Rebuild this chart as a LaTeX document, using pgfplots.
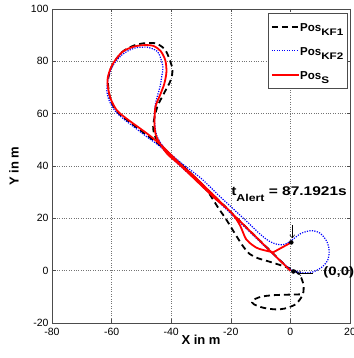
\documentclass[border=0pt]{standalone}
\usepackage{fontspec}
\setmainfont{Liberation Sans}
\newfontfamily\widefont[FakeStretch=1.23]{Liberation Sans}
\usepackage{pgfplots}
\pgfplotsset{compat=1.18}
\usetikzlibrary{arrows.meta}
\begin{document}
\begin{tikzpicture}
\begin{axis}[
  scale only axis, width=298pt, height=314pt,
  xmin=-80, xmax=20, ymin=-20, ymax=100,
  xtick={-80,-60,...,20}, ytick={-20,0,...,100},
  clip=false,
  grid=major,
  major grid style={dotted, black!55, line width=0.5pt},
  axis line style={black!70, line width=0.6pt},
  tick style={black!70, line width=0.6pt},
  major tick length=3.5pt, tick align=inside,
  /pgf/number format/assume math mode=true,
  ticklabel style={font=\fontsize{10.5}{12}\selectfont},
  xticklabel style={yshift=-2pt},
  xlabel={X in m}, ylabel={Y in m},
  label style={font=\fontsize{13}{15}\selectfont\bfseries},
  xlabel style={at={([yshift=-21pt]axis description cs:0.5,0)}, anchor=base},
  ylabel style={at={([xshift=-38pt]axis description cs:0,0.5)}, anchor=center},
  legend style={at={(0.99,0.987)}, anchor=north east, draw=black!70, fill=white,
    font=\fontsize{11.5}{13}\selectfont\bfseries,
    inner xsep=3pt, inner ysep=3pt, row sep=3pt,
    nodes={inner sep=0.5pt, text height=15pt, text depth=5pt}},
  legend cell align=left,
  legend image code/.code={\draw[#1] (0pt,0pt) -- (27pt,0pt);},
]
% Pos_KF1
\addplot[black, line width=1.8pt, dash pattern=on 6pt off 4pt, smooth, tension=0.5] coordinates {
(0,0) (-6,6.8) (-12,13.4) (-18.8,21) (-25.6,28.6) (-32,35.6) (-38,42) (-43.6,47.8)
(-48,51.6) (-52.6,55.6) (-56,58.6) (-58.4,61) (-60.5,66) (-61.2,72.7) (-59.8,78.4)
(-56.5,83.5) (-52.6,86) (-49.2,86.9) (-46.5,87) (-44.7,86.7) (-42.5,85) (-41.3,82.9)
(-39.6,77.2) (-40.2,72.7) (-42.5,67.6) (-44.7,62.5) (-46,56.1) (-45.8,52.5) (-44.5,49.5)
(-41,45) (-36,40) (-31,34.5) (-27.3,29.5) (-24.5,24.5) (-21.5,19.5) (-18.2,13.4)
(-16,9.5) (-13.7,6.4) (-11,4.8) (-7.5,3.6) (-3.6,2.2) (-0.5,1) (1.5,0) (3.3,-2)
(4.3,-5) (4.4,-8) (3.5,-10.5) (1.5,-13) (-2,-14.5) (-5,-14.8) (-9,-14.2) (-12.3,-12.8)
(-12.8,-11.5) (-10,-10) (-6,-9.4) (-2,-9.2) (2,-9.1) (4.2,-9)
};
\addlegendentry{Pos\raisebox{-3.5pt}{\widefont\fontsize{9.5}{10}\selectfont KF1}}
% Pos_KF2
\addplot[blue, line width=1.2pt, dash pattern=on 1.2pt off 1.3pt, smooth, tension=0.5] coordinates {
(0.5,0) (-6,6.5) (-12,13) (-18.8,20.5) (-25.6,28) (-32,35) (-37,40) (-43.6,47.3)
(-48,51) (-52.6,55) (-56,58) (-58.8,61) (-60.8,65) (-61.6,69) (-61,74) (-59.5,78.5)
(-56.5,82.5) (-52.5,85) (-48.1,85.4) (-45.5,84.4) (-44.1,82.9) (-42.8,78) (-43.2,74)
(-43.8,70.1) (-45.3,63.7) (-45.6,57.4) (-44.8,51.5) (-42,46.5) (-37,41.5) (-30,35.3)
(-25,29.8) (-20.5,25) (-15,19.2) (-10,13.8) (-7,11.2) (-4.5,10.1) (-2,10) (0.3,11.5)
(3.5,14.2) (7,15.3) (10,14.3) (12.3,11) (13,7.6) (12.5,4) (10.5,1.3) (7.5,-0.5)
(4,-0.8) (1.5,-0.3)
};
\addlegendentry{Pos\raisebox{-3.5pt}{\widefont\fontsize{9.5}{10}\selectfont KF2}}
% Pos_S
\addplot[red, line width=1.8pt, smooth, tension=0.5] coordinates {
(0,0) (-6.4,7.1) (-12,13.4) (-18.8,21.0) (-25.6,28.6) (-32,35.7) (-37,40.8) (-43.6,48.2)
(-48,52.3) (-52.6,56.1) (-56,59) (-58.4,61.5) (-60.5,66.3) (-61.4,72.7) (-59.9,78.4)
(-56.5,83.5) (-52.6,85.6) (-49,86.2) (-46,85.9) (-43.6,84) (-42,80.5) (-41.6,76)
(-42.3,71.5) (-43.6,67.5) (-45.3,62.5) (-45.6,56) (-45.2,52) (-44,49) (-41.3,44.6)
(-37,40.3) (-30.1,32.8) (-25,27.3) (-19.9,22.3) (-17,17.5) (-14.9,12.1) (-12.5,9.6)
(-10.4,8.3) (-5.8,7.0)
};
\addlegendentry{Pos\raisebox{-3.5pt}{\widefont\fontsize{9.5}{10}\selectfont S}}
\addplot[red, line width=1.8pt, forget plot] coordinates {(-5.8,7.0) (0.3,10.8)};
\addplot[only marks, mark=*, mark size=2pt, black, forget plot] coordinates {(0.3,10.8) (1,-0.3)};
% annotations
\draw[-{Straight Barb[length=3pt,width=5pt]}, black, line width=0.5pt] (axis cs:0.6,17.5) -- (axis cs:0.6,12.4);
\draw[-{Straight Barb[length=3pt,width=5pt]}, black, line width=0.5pt] (axis cs:7.5,-1) -- (axis cs:2.4,-1);
\node[anchor=base west, inner sep=0pt, font=\widefont\bfseries\fontsize{12.6}{14}\selectfont]
  at (axis cs:-19.9,28.7) {t\raisebox{-6pt}{\fontsize{10}{11}\selectfont Alert} = 87.1921s};
\node[anchor=west, inner sep=0pt, font=\widefont\bfseries\fontsize{12.2}{14}\selectfont]
  at (axis cs:11,-0.6) {(0,0)};
\end{axis}
\pgfresetboundingbox
\path[use as bounding box] ([shift={(-52pt,-35pt)}]current axis.south west) rectangle ([shift={(3pt,9pt)}]current axis.north east);
\end{tikzpicture}
\end{document}
